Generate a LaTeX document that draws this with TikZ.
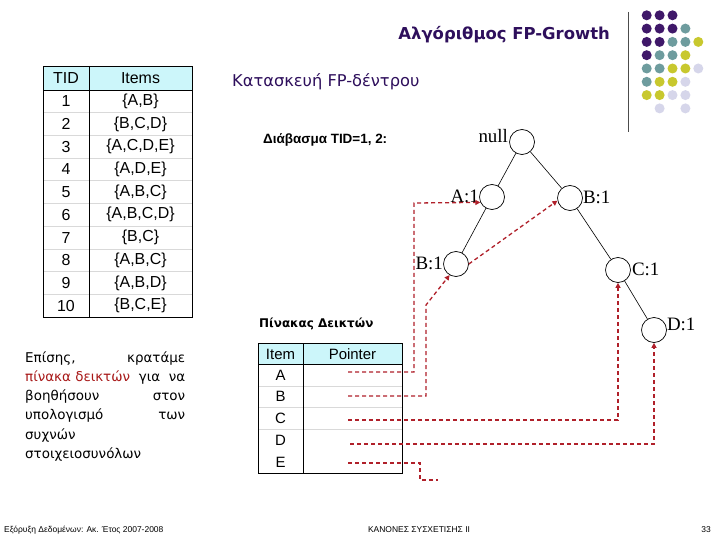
\documentclass[tikz,border=0pt]{standalone}
\usepackage{fontspec}
\setmainfont{Liberation Sans}
\newfontfamily\tmsfont{Liberation Serif}
\newfontfamily\cmcfont{DejaVu Sans}
\usetikzlibrary{arrows.meta,calc}
\definecolor{dpurple}{HTML}{2E0F5C}
\definecolor{dotpur}{HTML}{3F1869}
\definecolor{dotteal}{HTML}{6E9C9E}
\definecolor{dotyel}{HTML}{C8C82E}
\definecolor{dotlav}{HTML}{D6D6EA}
\definecolor{ptrred}{HTML}{B0202A}
\definecolor{hdrcyan}{HTML}{CCF6FA}
\definecolor{txtred}{HTML}{A81818}
\tikzset{
  tn/.style={circle,draw,minimum size=25bp,inner sep=0pt,line width=0.7bp},
  tl/.style={font=\tmsfont\fontsize{19}{21}\selectfont,inner sep=0pt},
  te/.style={line width=0.6bp},
  ptr/.style={draw=ptrred,line width=1.3bp,dash pattern=on 4bp off 3bp},
  ptrarr/.style={ptr,-{Triangle[length=5bp,width=5bp,fill=ptrred]}},
  tabtxt/.style={font=\fontsize{16}{18}\selectfont,inner sep=0pt},
  ptabtxt/.style={font=\fontsize{15}{17}\selectfont,inner sep=0pt},
  rowline/.style={draw=gray!30,line width=0.6bp},
  frame/.style={draw,line width=0.9bp},
  paraline/.style={anchor=base west,inner sep=0pt,font=\cmcfont\fontsize{13.5}{16}\selectfont},
}
\begin{document}
\begin{tikzpicture}[x=1bp,y=-1bp]
\useasboundingbox (0,0) rectangle (720,540);
\fill[white] (0,0) rectangle (720,540);

% dot grid
\foreach \c/\r/\col in {0/0/dotpur,1/0/dotpur,2/0/dotpur,
  0/1/dotpur,1/1/dotpur,2/1/dotpur,3/1/dotteal,
  0/2/dotpur,1/2/dotpur,2/2/dotteal,3/2/dotteal,4/2/dotyel,
  0/3/dotpur,1/3/dotteal,2/3/dotteal,3/3/dotyel,
  0/4/dotteal,1/4/dotteal,2/4/dotyel,3/4/dotyel,4/4/dotlav,
  0/5/dotteal,1/5/dotyel,2/5/dotyel,3/5/dotlav,
  0/6/dotyel,1/6/dotyel,2/6/dotlav,3/6/dotlav,
  1/7/dotlav,3/7/dotlav}
  \fill[\col] (646.7+12.9*\c,15.3+13.3*\r) circle (5bp);
\draw[line width=0.8bp,gray!60!black] (628,12) -- (628,132);

% titles
\node[anchor=east,inner sep=0pt,text=dpurple,font=\cmcfont\bfseries\fontsize{16.5}{19}\selectfont] (title) at (610,35) {Αλγόριθμος FP-Growth};
\node[anchor=west,inner sep=0pt,text=dpurple,font=\cmcfont\fontsize{16.3}{18}\selectfont] (sub) at (232,82) {Κατασκευή FP-δέντρου};
\node[anchor=west,inner sep=0pt,font=\bfseries\fontsize{13.5}{15}\selectfont] (read) at (263,140) {Διάβασμα TID=1, 2:};
\node[anchor=west,inner sep=0pt,font=\cmcfont\bfseries\fontsize{12}{14}\selectfont] (ptitle) at (259,324) {Πίνακας Δεικτών};

% left table
\fill[hdrcyan] (43,66) rectangle (192,90);
\foreach \i in {1,...,9} \draw[rowline] (43,90+22.7*\i) -- (192,90+22.7*\i);
\draw[frame] (43,66) rectangle (192,317);
\draw[frame] (89,66) -- (89,317);
\draw[frame] (43,90) -- (192,90);
\node[tabtxt] (th1) at (66,78) {TID};
\node[tabtxt] (th2) at (140.5,78) {Items};
\foreach \s [count=\i] in {{\{A,B\}},{\{B,C,D\}},{\{A,C,D,E\}},{\{A,D,E\}},{\{A,B,C\}},{\{A,B,C,D\}},{\{B,C\}},{\{A,B,C\}},{\{A,B,D\}},{\{B,C,E\}}}{
  \node[tabtxt] (tid\i) at (66,90+22.7*\i-11.35) {\i};
  \node[tabtxt] (itm\i) at (140.5,90+22.7*\i-11.35) {\s};
}

% paragraph
\node[paraline] (pl1) at (25,362) {\hbox to 160bp{Επίσης,\hfill κρατάμε}};
\node[paraline] (pl2) at (25,381.3) {\hbox to 160bp{\textcolor{txtred}{πίνακα δεικτών}\hfil\ για\hfil\ να}};
\node[paraline] (pl3) at (25,400.6) {\hbox to 160bp{βοηθήσουν\hfill στον}};
\node[paraline] (pl4) at (25,419.9) {\hbox to 160bp{υπολογισμό\hfill των}};
\node[paraline] (pl5) at (25,439.2) {συχνών};
\node[paraline] (pl6) at (25,458.5) {στοιχειοσυνόλων};

% pointer table
\fill[hdrcyan] (258,343) rectangle (402,364);
\foreach \i in {1,...,3} \draw[rowline] (258,364+21.8*\i) -- (402,364+21.8*\i);
\draw[frame] (258,343) rectangle (402,473);
\draw[frame] (303,343) -- (303,473);
\draw[frame] (258,364) -- (402,364);
\node[ptabtxt] (ph1) at (280.5,354) {Item};
\node[ptabtxt] (ph2) at (352.5,354) {Pointer};
\foreach \s [count=\i] in {A,B,C,D,E}
  \node[ptabtxt] (pi\i) at (280.5,364+21.8*\i-10.9) {\s};

% tree
\node[tn] (nNull) at (522,142) {};
\node[tn] (nA) at (492,197) {};
\node[tn] (nBr) at (570,198) {};
\node[tn] (nBl) at (456,264) {};
\node[tn] (nC) at (618,270) {};
\node[tn] (nD) at (654,330) {};
\node[tl,anchor=base east] (lNull) at ($(nNull.west)+(-1,1)$) {null};
\node[tl,anchor=base east] (lA) at ($(nA.west)+(0,6)$) {A:1};
\node[tl,anchor=base west] (lBr) at ($(nBr.east)+(0,6)$) {B:1};
\node[tl,anchor=base east] (lBl) at ($(nBl.west)+(0,6)$) {B:1};
\node[tl,anchor=base west] (lC) at ($(nC.east)+(1,6)$) {C:1};
\node[tl,anchor=base west] (lD) at ($(nD.east)+(0,0)$) {D:1};
\draw[te] (nNull) -- (nA);
\draw[te] (nNull) -- (nBr);
\draw[te] (nA) -- (nBl);
\draw[te] (nBr) -- (nC);
\draw[te] (nC) -- (nD);

% pointers
\coordinate (pA) at (348,372);
\coordinate (pB) at (348,396);
\coordinate (pC) at (348,420);
\coordinate (pD) at (350,444);
\coordinate (pE) at (348,463);
\coordinate (kA) at (414,203);
\coordinate (kB) at (426,305);
\coordinate (kE) at (420,480);
\coordinate (eE) at (438,480);
\draw[ptrarr] (pA) -| (kA) -- (nA.205);
\draw[ptrarr] (pB) -| (kB) -- (nBl.240);
\draw[ptrarr] (nBl.east) -- (nBr.192);
\draw[ptrarr] (pC) -| (nC.south);
\draw[ptrarr] (pD) -| (nD.south);
\draw[ptr] (pE) -| (kE) -- (eE);

% footer
\node[anchor=base west,inner sep=0pt,font=\fontsize{8.5}{10}\selectfont] (f1) at (4,532) {Εξόρυξη Δεδομένων: Ακ. Έτος 2007-2008};
\node[anchor=base,inner sep=0pt,font=\fontsize{8.5}{10}\selectfont] (f2) at (419,532) {ΚΑΝΟΝΕΣ ΣΥΣΧΕΤΙΣΗΣ ΙΙ};
\node[anchor=base east,inner sep=0pt,font=\fontsize{8.5}{10}\selectfont] (f3) at (711,532) {33};
\end{tikzpicture}
\end{document}
